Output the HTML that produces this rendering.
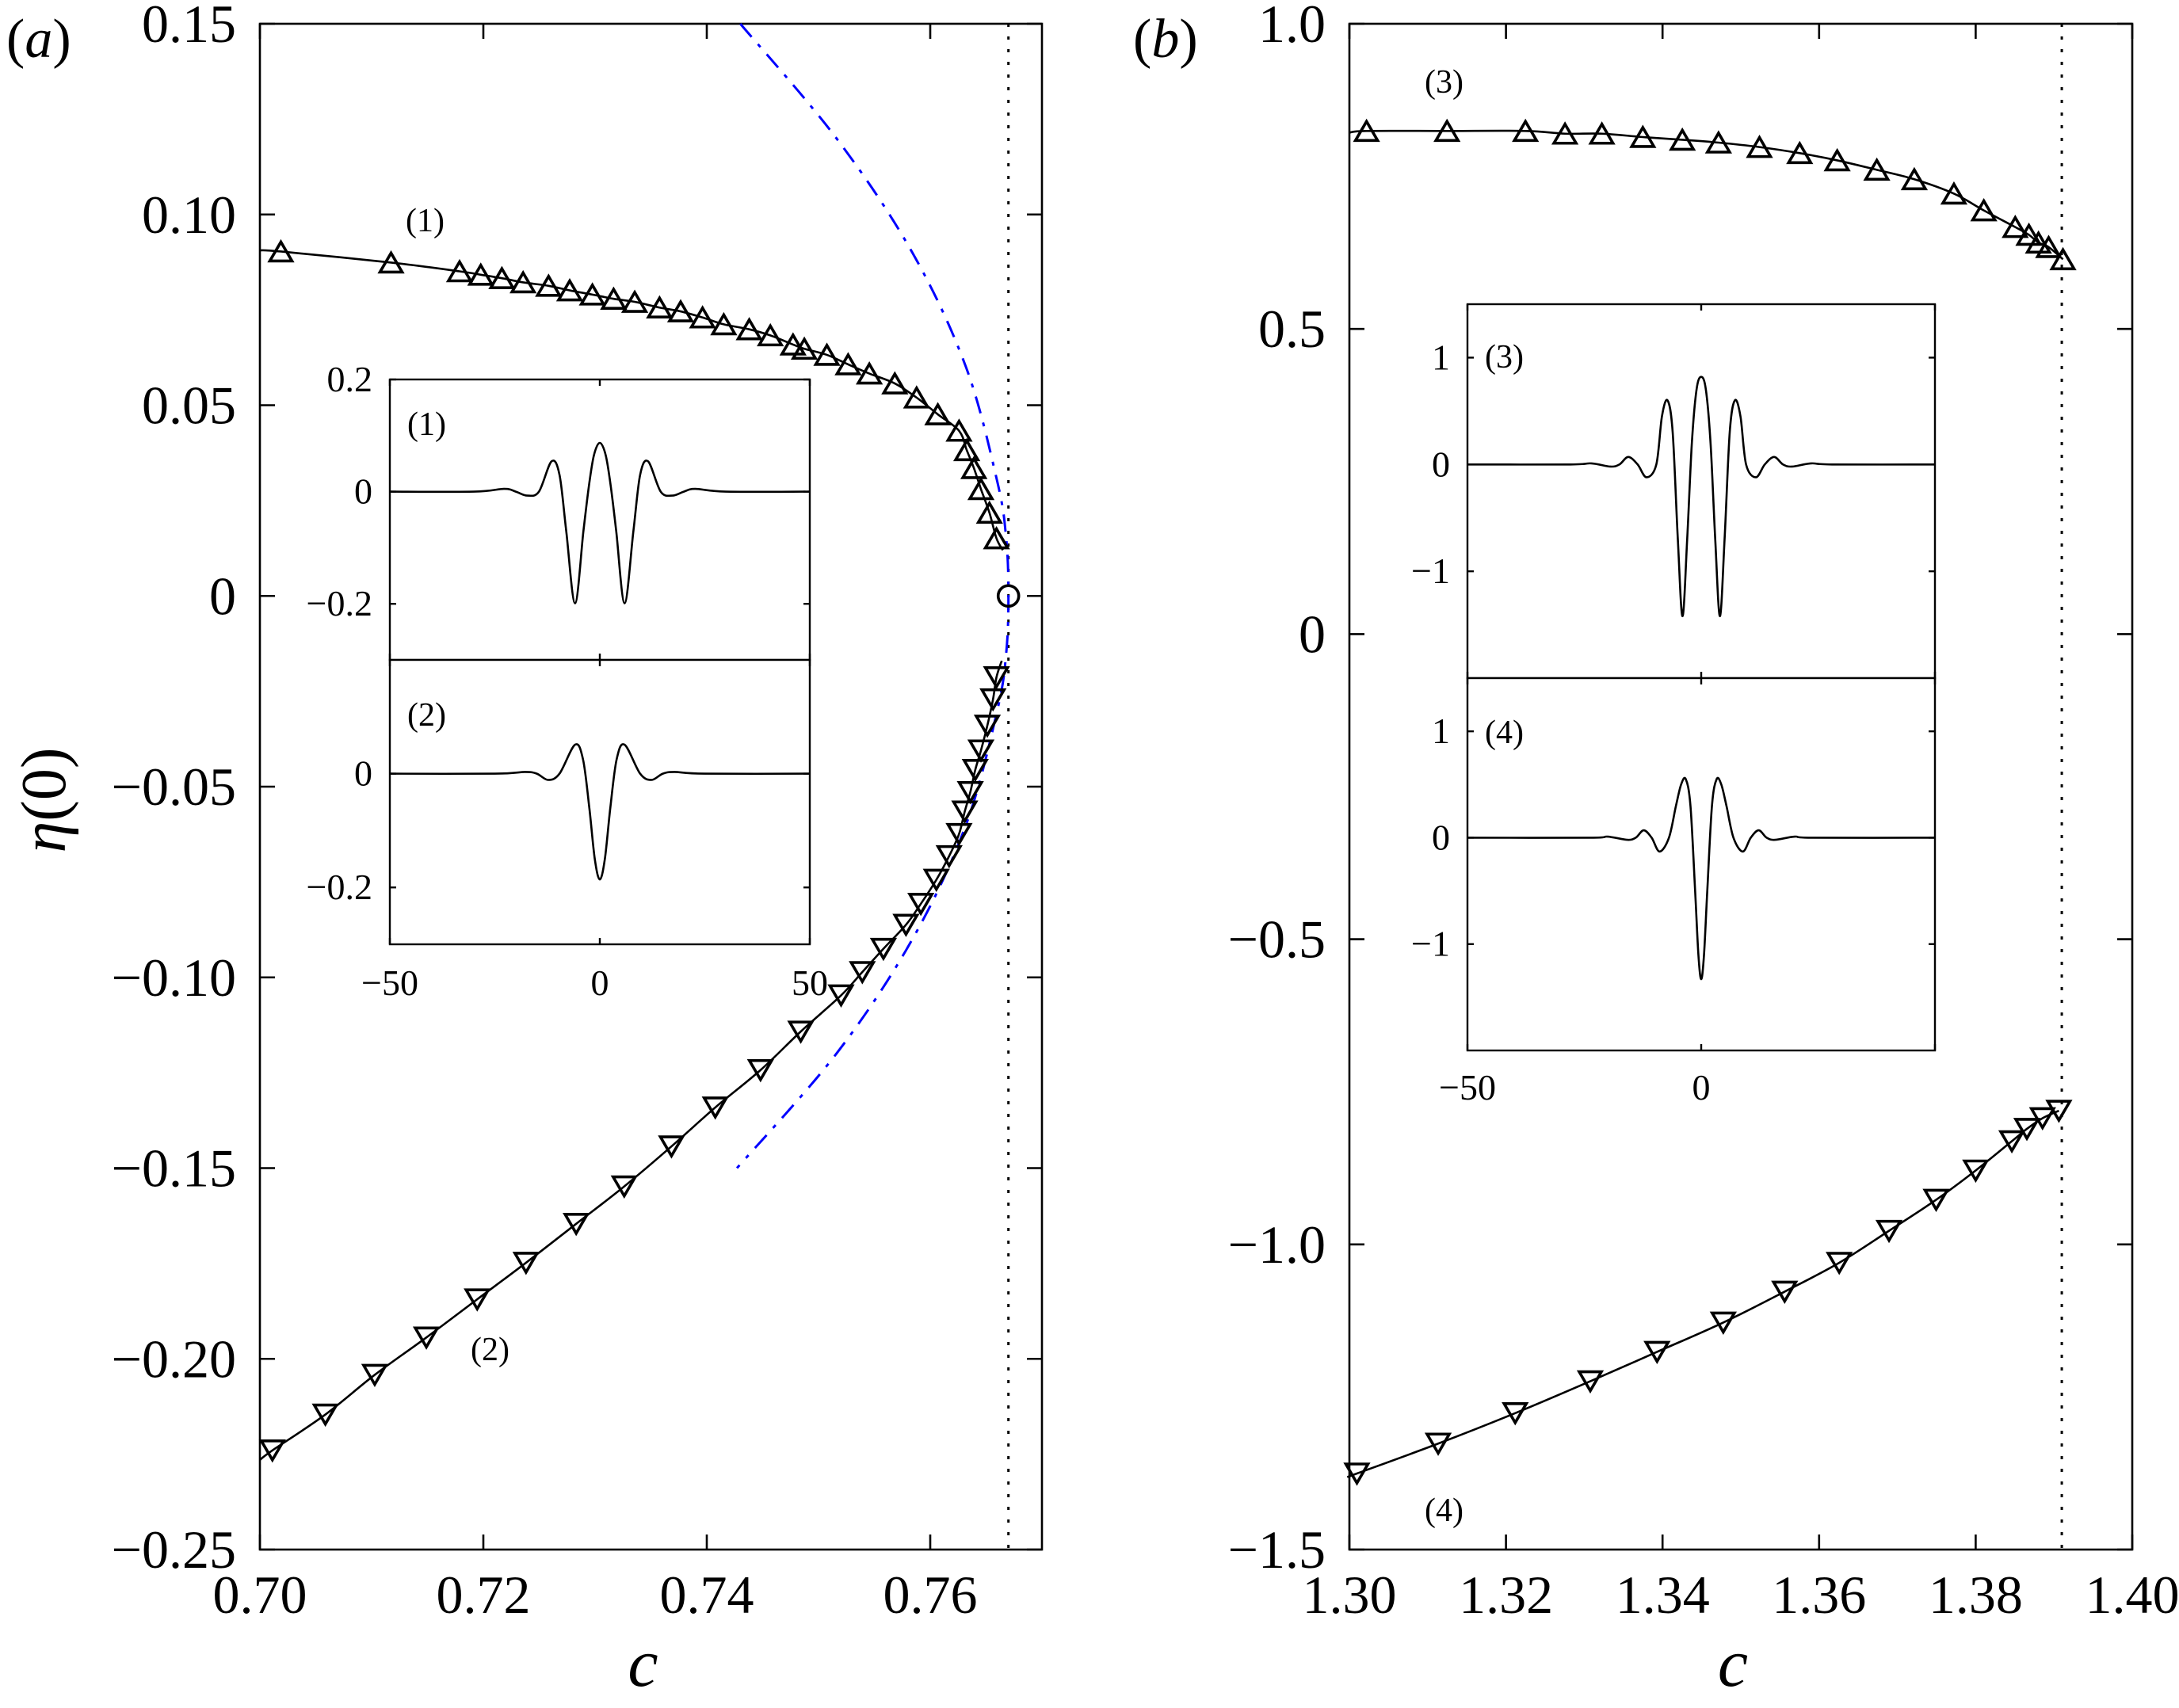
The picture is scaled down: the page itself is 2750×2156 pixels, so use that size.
<!DOCTYPE html>
<html><head><meta charset="utf-8"><title>eta(0) vs c</title>
<style>
html,body{margin:0;padding:0;background:#fff;}
svg{display:block;}
svg text{font-family:"Liberation Serif","Times New Roman",serif;fill:#000;}
</style></head>
<body>
<svg id="fig" xmlns="http://www.w3.org/2000/svg" width="2750" height="2156" viewBox="0 0 2750 2156" font-family="Liberation Serif, serif">
<rect x="0" y="0" width="2750" height="2156" fill="#fff"/>
</svg>
<script>
// ---------- data : panel (a) ----------
const aUpC = [0.70188,0.71174,0.71787,0.71977,0.72166,0.72356,0.72584,0.72773,0.72976,0.73166,0.73355,0.73577,0.73766,0.73962,0.74152,0.74380,0.74569,0.74772,0.74873,0.75075,0.75265,0.75455,0.75683,0.75878,0.76068,0.76258,0.76327,0.76391,0.76454,0.76530,0.76593];
const aUpEta = [0.0903,0.0874,0.0851,0.0842,0.0833,0.0822,0.0813,0.0801,0.0790,0.0779,0.0771,0.0756,0.0746,0.0730,0.0712,0.0699,0.0683,0.0659,0.0648,0.0632,0.0607,0.0583,0.0557,0.0520,0.0476,0.0433,0.0382,0.0335,0.0280,0.0218,0.0151];
const aUpLineC = [0.700,0.76650];
const aUpLineEta = [0.0906,0.0120];
const aLoC = [0.76593,0.76562,0.76511,0.76454,0.76403,0.76359,0.76309,0.76258,0.76169,0.76055,0.75916,0.75783,0.75581,0.75392,0.75202,0.74841,0.74481,0.74076,0.73684,0.73261,0.72831,0.72382,0.71945,0.71490,0.71028,0.70586,0.70112];
const aLoEta = [-0.0213,-0.0271,-0.0340,-0.0405,-0.0456,-0.0514,-0.0565,-0.0624,-0.0682,-0.0744,-0.0807,-0.0862,-0.0925,-0.0986,-0.1047,-0.1142,-0.1243,-0.1341,-0.1443,-0.1548,-0.1646,-0.1748,-0.1844,-0.1944,-0.2042,-0.2146,-0.2240];
const aLoLineC = [0.76640,0.700];
const aLoLineEta = [-0.0170,-0.2265];
const aBlueEta = [0.15,0.12,0.09,0.06,0.03,0.015,0,-0.015,-0.03,-0.06,-0.09,-0.12,-0.15];
const aBlueC = [0.7430,0.7516,0.7584,0.7632,0.7660,0.7668,0.7670,0.7668,0.7660,0.7632,0.7584,0.7516,0.7427];
const aLimitC = 0.767;
const aCircleC = [0.767];
const aCircleEta = [0];
const aXTicks = [0.70,0.72,0.74,0.76];
const aXTickLabels = ["0.70","0.72","0.74","0.76"];
const aYTicks = [0.15,0.10,0.05,0,-0.05,-0.10,-0.15,-0.20,-0.25];
const aYTickLabels = ["0.15","0.10","0.05","0","−0.05","−0.10","−0.15","−0.20","−0.25"];
// ---------- data : panel (b) ----------
const bUpC = [1.30219,1.31247,1.32249,1.32754,1.33225,1.33748,1.34253,1.34715,1.35238,1.35752,1.36231,1.36737,1.37216,1.37722,1.38104,1.38505,1.38680,1.38802,1.38932,1.39115];
const bUpEta = [0.8244,0.8244,0.8244,0.8199,0.8199,0.8144,0.8099,0.8053,0.7980,0.7880,0.7762,0.7607,0.7452,0.7216,0.6942,0.6669,0.6542,0.6414,0.6341,0.6141];
const bUpLineC = [1.300];
const bUpLineEta = [0.8217];
const bLoC = [1.30096,1.31134,1.32118,1.33077,1.33930,1.34776,1.35560,1.36257,1.36893,1.37495,1.38000,1.38462,1.38654,1.38854,1.39063];
const bLoEta = [-1.3754,-1.3264,-1.2765,-1.2242,-1.1761,-1.1280,-1.0774,-1.0301,-0.9777,-0.9269,-0.8789,-0.8309,-0.8107,-0.7932,-0.7810];
const bLoLineC = [1.300];
const bLoLineEta = [-1.380];
const bLimitC = 1.391;
const bXTicks = [1.30,1.32,1.34,1.36,1.38,1.40];
const bXTickLabels = ["1.30","1.32","1.34","1.36","1.38","1.40"];
const bYTicks = [1.0,0.5,0,-0.5,-1.0,-1.5];
const bYTickLabels = ["1.0","0.5","0","−0.5","−1.0","−1.5"];
// ---------- data : insets ----------
const w1x = [-50,-30,-22.7,-20,-17.3,-14.5,-11.5,-9.6,-8.0,-5.9,-3.9,-2.6,-1.4,0,1.4,2.6,3.9,5.9,8.0,9.6,11.5,14.5,17.3,20,22.7,30,50];
const w1y = [0,0,0.005,0,-0.007,0,0.054,0.03,-0.07,-0.199,-0.07,0.01,0.065,0.087,0.065,0.01,-0.07,-0.199,-0.07,0.03,0.054,0,-0.007,0,0.005,0,0];
const w2x = [-50,-25,-17.8,-15,-12.3,-9.6,-5.9,-4.0,-2.5,-1.2,0,1.2,2.5,4.0,5.9,9.6,12.3,15,17.8,25,50];
const w2y = [0,0,0.003,0,-0.011,0,0.051,0.025,-0.06,-0.15,-0.186,-0.15,-0.06,0.025,0.051,0,-0.011,0,0.003,0,0];
const w3x = [-50,-28,-23.5,-19.4,-17.5,-15.6,-13.6,-11.7,-9.6,-8.4,-7.2,-6.1,-5.0,-4.0,-3.0,-2.0,-1.0,0,1.0,2.0,3.0,4.0,5.0,6.1,7.2,8.4,9.6,11.7,13.6,15.6,17.5,19.4,23.5,28,50];
const w3y = [0,0,0.01,-0.02,0,0.07,0,-0.12,0,0.45,0.60,0.30,-0.70,-1.42,-0.70,0.20,0.70,0.82,0.70,0.20,-0.70,-1.42,-0.70,0.30,0.60,0.45,0,-0.12,0,0.07,0,-0.02,0.01,0,0];
const w4x = [-50,-24,-20,-15.8,-14,-12.3,-10.6,-8.9,-6.9,-5.4,-4.3,-3.3,-2.3,-1.3,-0.6,0,0.6,1.3,2.3,3.3,4.3,5.4,6.9,8.9,10.6,12.3,14,15.8,20,24,50];
const w4y = [0,0,0.01,-0.02,0,0.07,0,-0.13,0,0.30,0.50,0.55,0.30,-0.50,-1.10,-1.33,-1.10,-0.50,0.30,0.55,0.50,0.30,0,-0.13,0,0.07,0,-0.02,0.01,0,0];
const insetXTicks = [-50,0,50];
const insetAXLabels = ["−50","0","50"];
const insetBXLabels = ["−50","0",""];
const insetAYTicks = [0.2,0,-0.2];
const insetAYLabels = ["0.2","0","−0.2"];
const insetBYTicks = [1,0,-1];
const insetBYLabels = ["1","0","−1"];

// ---------- helpers ----------
const NS = "http://www.w3.org/2000/svg";
const svg = document.getElementById('fig');
const FONT = '"Liberation Serif", "Times New Roman", serif';
function mk(tag, attrs, parent){
  const e = document.createElementNS(NS, tag);
  for (const k in attrs) e.setAttribute(k, attrs[k]);
  (parent||svg).appendChild(e);
  return e;
}
function scale(d0,d1,r0,r1){ return v => r0 + (v-d0)/(d1-d0)*(r1-r0); }
function spline(pts){
  if (pts.length < 2) return "";
  let d = "M"+pts[0][0].toFixed(2)+","+pts[0][1].toFixed(2);
  for (let i=0;i<pts.length-1;i++){
    const p0 = pts[i-1]||pts[i], p1 = pts[i], p2 = pts[i+1], p3 = pts[i+2]||pts[i+1];
    const c1 = [p1[0]+(p2[0]-p0[0])/6, p1[1]+(p2[1]-p0[1])/6];
    const c2 = [p2[0]-(p3[0]-p1[0])/6, p2[1]-(p3[1]-p1[1])/6];
    d += " C"+c1[0].toFixed(2)+","+c1[1].toFixed(2)+" "+c2[0].toFixed(2)+","+c2[1].toFixed(2)+" "+p2[0].toFixed(2)+","+p2[1].toFixed(2);
  }
  return d;
}
function tri(g, x, y, up){
  const s = 14, h = 12;
  const pts = up ? [[x,y-h],[x-s,y+h],[x+s,y+h]] : [[x,y+h],[x-s,y-h],[x+s,y-h]];
  return mk('polygon',{points:pts.map(q=>q.join(',')).join(' '),fill:'none',stroke:'#000','stroke-width':3.6,'stroke-linejoin':'miter'},g);
}
function txt(parent, x, y, s, size, anchor, extra){
  const t = mk('text', Object.assign({x:x,y:y,'font-size':size,'text-anchor':anchor||'start','font-family':FONT}, extra||{}), parent);
  t.textContent = s;
  return t;
}

// ---------- main panel ----------
function panel(cfg){
  const g = mk('g',{});
  
  
  const X = scale(cfg.xd[0],cfg.xd[1],cfg.L,cfg.R);
  const Y = scale(cfg.yd[0],cfg.yd[1],cfg.B,cfg.T);
  const dl = mk('line',{x1:X(cfg.limit),x2:X(cfg.limit),y1:cfg.T,y2:cfg.B,stroke:'#000','stroke-width':3,'stroke-dasharray':'4 12'},g);
  
  
  const fr = mk('rect',{x:cfg.L,y:cfg.T,width:cfg.R-cfg.L,height:cfg.B-cfg.T,fill:'none',stroke:'#000','stroke-width':2.6},g);
  
  
  cfg.xt.forEach((v,i)=>{
    const x = X(v);
    mk('line',{x1:x,x2:x,y1:cfg.B,y2:cfg.B-19,stroke:'#000','stroke-width':2.6},g);
    mk('line',{x1:x,x2:x,y1:cfg.T,y2:cfg.T+19,stroke:'#000','stroke-width':2.6},g);
    const t = txt(g, x, 2036, cfg.xl[i], 68, 'middle');
    
    
  });
  cfg.yt.forEach((v,i)=>{
    const y = Y(v);
    mk('line',{x1:cfg.L,x2:cfg.L+19,y1:y,y2:y,stroke:'#000','stroke-width':2.6},g);
    mk('line',{x1:cfg.R,x2:cfg.R-19,y1:y,y2:y,stroke:'#000','stroke-width':2.6},g);
    const t = txt(g, cfg.L-30, y+23, cfg.yl[i], 68, 'end');
    
    
  });
  const xt = txt(g, (cfg.L+cfg.R)/2 - 10, 2128, 'c', 86, 'middle', {'font-style':'italic'});
  
  
  return {g,X,Y};
}
function series(p, cs, es, lineC, lineEta, up, name){
  const pts = cs.map((c,i)=>[p.X(c),p.Y(es[i])]);
  const extra = lineC.map((c,i)=>[p.X(c),p.Y(lineEta[i])]);
  let linePts;
  if (extra.length === 1) linePts = [extra[0]].concat(pts);
  else linePts = [extra[0]].concat(pts).concat([extra[1]]);
  const path = mk('path',{d:spline(linePts),fill:'none',stroke:'#000','stroke-width':2.6},p.g);
  
  
  pts.forEach(q=>{
    const m = tri(p.g,q[0],q[1],up);
    
    
  });
}

// panel a
const pa = panel({name:'panel-a',L:328,R:1315,T:30,B:1956,xd:[0.70,0.77],yd:[-0.25,0.15],limit:aLimitC,xt:aXTicks,xl:aXTickLabels,yt:aYTicks,yl:aYTickLabels});
const blue = mk('path',{d:spline(aBlueC.map((c,i)=>[pa.X(c),pa.Y(aBlueEta[i])])),fill:'none',stroke:'#0000ff','stroke-width':3,'stroke-dasharray':'22 12 5 12'},pa.g);


series(pa, aUpC, aUpEta, aUpLineC, aUpLineEta, true, 'branch-1');
series(pa, aLoC, aLoEta, aLoLineC, aLoLineEta, false, 'branch-2');
aCircleC.forEach((c,i)=>{
  const ci = mk('circle',{cx:pa.X(c),cy:pa.Y(aCircleEta[i]),r:13,fill:'none',stroke:'#000','stroke-width':3.6},pa.g);
  
  
});

// panel b
const pb = panel({name:'panel-b',L:1703,R:2691,T:30,B:1956,xd:[1.30,1.40],yd:[-1.5,1.0],limit:bLimitC,xt:bXTicks,xl:bXTickLabels,yt:bYTicks,yl:bYTickLabels});
series(pb, bUpC, bUpEta, bUpLineC, bUpLineEta, true, 'branch-3');
series(pb, bLoC, bLoEta, bLoLineC, bLoLineEta, false, 'branch-4');

// ---------- insets ----------
function inset(cfg){
  const g = mk('g',{});
  
  
  const X = scale(-50,50,cfg.L,cfg.R);
  cfg.boxes.forEach((bx,bi)=>{
    const Y = scale(cfg.yd[0],cfg.yd[1],bx.B,bx.T);
    const r = mk('rect',{x:cfg.L,y:bx.T,width:cfg.R-cfg.L,height:bx.B-bx.T,fill:'#fff',stroke:'#000','stroke-width':2.4},g);
    
    
    insetXTicks.forEach(v=>{
      mk('line',{x1:X(v),x2:X(v),y1:bx.B,y2:bx.B-8,stroke:'#000','stroke-width':2.4},g);
      mk('line',{x1:X(v),x2:X(v),y1:bx.T,y2:bx.T+8,stroke:'#000','stroke-width':2.4},g);
    });
    cfg.yt.forEach((v,i)=>{
      const y = Y(v);
      if (y < bx.T-1 || y > bx.B+1) return;
      if (bi > 0 && Math.abs(y-bx.T) < 3) return;
      mk('line',{x1:cfg.L,x2:cfg.L+8,y1:y,y2:y,stroke:'#000','stroke-width':2.4},g);
      mk('line',{x1:cfg.R,x2:cfg.R-8,y1:y,y2:y,stroke:'#000','stroke-width':2.4},g);
      const t = txt(g, cfg.L-22, y+15, cfg.yl[i], 46, 'end');
      
      
    });
    const w = bx.wave;
    const pth = mk('path',{d:spline(w[0].map((x,i)=>[X(x),Y(w[1][i])])),fill:'none',stroke:'#000','stroke-width':2.6},g);
    
    
    const lb = txt(g, cfg.L+22, bx.T+(bx.labelDy), bx.label, 42, 'start');
    
    
  });
  insetXTicks.forEach((v,i)=>{
    if (!cfg.xl[i]) return;
    const t = txt(g, X(v), cfg.xlY, cfg.xl[i], 46, 'middle');
    
    
  });
}
inset({name:'inset-a',L:492,R:1022,yd:[-0.3,0.2],yt:insetAYTicks,yl:insetAYLabels,xl:insetAXLabels,xlY:1256,
  boxes:[{T:479,B:833,wave:[w1x,w1y],label:'(1)',labelDy:70},{T:833,B:1192,wave:[w2x,w2y],label:'(2)',labelDy:83}]});
inset({name:'inset-b',L:1852,R:2442,yd:[-2,1.5],yt:insetBYTicks,yl:insetBYLabels,xl:insetBXLabels,xlY:1388,
  boxes:[{T:384,B:856,wave:[w3x,w3y],label:'(3)',labelDy:80},{T:856,B:1326,wave:[w4x,w4y],label:'(4)',labelDy:82}]});

// ---------- annotations ----------
function ann(x,y,s,size,name,italicInner){
  const t = mk('text',{x:x,y:y,'font-size':size,'font-family':FONT});
  if (italicInner){
    const a = mk('tspan',{},t); a.textContent='(';
    const b = mk('tspan',{'font-style':'italic'},t); b.textContent=italicInner;
    const c = mk('tspan',{},t); c.textContent=')';
  } else t.textContent = s;
  
  
}
ann(8,72,'',70,'panel-a-label','a');
ann(1430,72,'',70,'panel-b-label','b');
ann(512,292,'(1)',42,'branch-1-label');
ann(594,1717,'(2)',42,'branch-2-label');
ann(1798,117,'(3)',42,'branch-3-label');
ann(1798,1920,'(4)',42,'branch-4-label');
const yl = mk('text',{x:0,y:0,'font-size':80,'text-anchor':'middle','font-family':FONT,transform:'translate(82,1010) rotate(-90)'});
const e1 = mk('tspan',{'font-style':'italic'},yl); e1.textContent='η';
const e2 = mk('tspan',{},yl); e2.textContent='(0)';


</script>
</body></html>
